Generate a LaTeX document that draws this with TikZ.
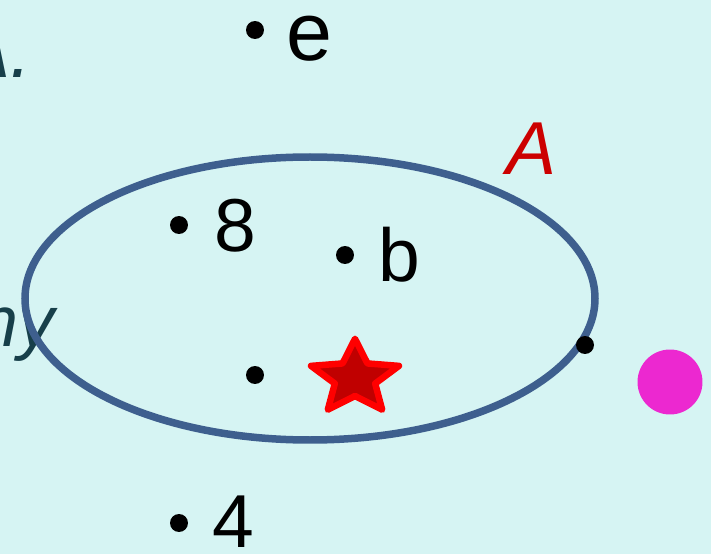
\documentclass[tikz,border=0pt]{standalone}
\usepackage{fontspec}
\setmainfont{Liberation Sans}
\usepackage{tikz}
\usetikzlibrary{calc,positioning}
\definecolor{bgcyan}{RGB}{214,244,243}
\definecolor{setblue}{RGB}{62,95,142}
\definecolor{setred}{RGB}{204,0,0}
\definecolor{darkteal}{RGB}{23,63,74}
\definecolor{starfill}{RGB}{192,0,0}
\definecolor{magentadot}{RGB}{236,40,208}
\tikzset{elem/.style={circle,fill=black,inner sep=0pt,minimum size=0.36cm},
  lbl/.style={inner sep=0pt,anchor=base,font=\fontsize{42.7}{42.7}\selectfont},
  cut/.style={lbl,text=darkteal,font=\fontsize{41}{41}\selectfont\itshape}}

\begin{document}
\begin{tikzpicture}[x=0.02cm,y=-0.02cm]
\useasboundingbox (0,0) rectangle (711,554);
\fill[bgcyan] (0,0) rectangle (711,554);
% fragments of the surrounding text
\node[cut,anchor=base east,font=\fontsize{42.7}{42.7}\selectfont\itshape] (fragA) at (32,78) {A.};
\node[cut,anchor=base east] (fragmy) at (55,347) {my};
% the set
\draw[setblue,line width=0.15cm] (310,298.5) ellipse [x radius=285,y radius=141.5];
\node[lbl,text=setred,font=\fontsize{42.7}{42.7}\selectfont\itshape] (nameA) at (532,175) {A};
% elements
\node[elem] (de) at (255,30) {};
\node[lbl,font=\fontsize{47}{47}\selectfont] (le) at (309,61) {e};
\node[elem] (d8) at (179,225) {};
\node[lbl] (l8) at (235,252) {8};
\node[elem] (db) at (345,255) {};
\node[lbl] (lb) at (399,282) {b};
\node[elem] (dlow) at (255,375) {};
\node[elem] (dedge) at (585,345) {};
\node[elem] (d4) at (179,523) {};
\node[lbl] (l4) at (233,547) {4};
\node[circle,fill=magentadot,inner sep=0pt,minimum size=1.3cm] (outside) at (670,382) {};
% star
\begin{scope}[shift={(355,378)},x=0.0236cm,y=0.02cm]
\draw[red,fill=starfill,line width=0.13cm,line join=round] (90:39.2)
  \foreach \a in {1,...,9}{ -- ({90+36*\a}:{mod(\a,2)==0 ? 39.2 : 18})} -- cycle;
\end{scope}
\end{tikzpicture}
\end{document}
